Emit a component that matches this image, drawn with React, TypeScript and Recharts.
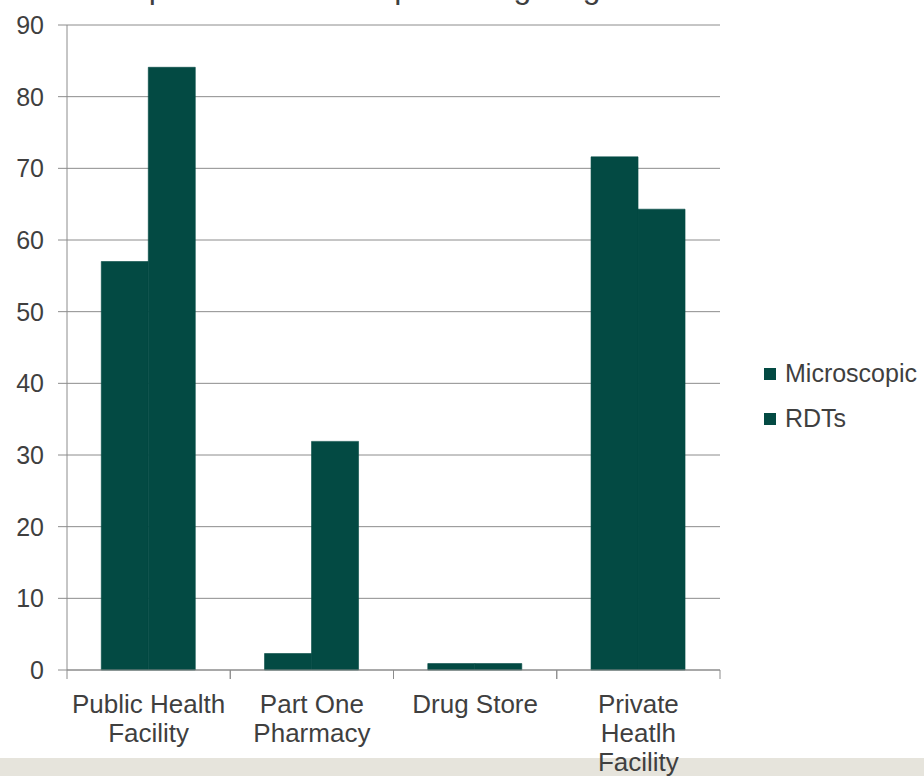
import { BarChart, Bar, XAxis, YAxis, CartesianGrid, Legend } from 'recharts';

const categories = ['Public Health Facility', 'Part One Pharmacy', 'Drug Store', 'Private Heatlh Facility'];
const xTickLabels = [['Public Health', 'Facility'], ['Part One', 'Pharmacy'], ['Drug Store'], ['Private', 'Heatlh', 'Facility']];
const microscopic = [57.0, 2.3, 0.9, 71.6];
const rdts = [84.1, 31.9, 0.9, 64.3];
const yTicks = [0, 10, 20, 30, 40, 50, 60, 70, 80, 90];
const title = 'Proportion of outlets practicing diagnostics';

const data = categories.map((name, i) => ({
  name,
  Microscopic: microscopic[i],
  RDTs: rdts[i],
}));

const FONT = '"Liberation Sans", Arial, sans-serif';
const BAR = '#034A43';
const GRID = '#8c8c8c';
const TEXT = '#3f3f3f';

// category labels wrap onto several lines, tick marks sit on the category borders
const CategoryTick = (props: any) => {
  const { x, y, payload, index } = props;
  const half = payload.offset || 0;
  const lines = xTickLabels[index] || [payload.value];
  return (
    <g>
      <line x1={x - half} x2={x - half} y1={y} y2={y + 9} stroke={GRID} />
      <line x1={x + half} x2={x + half} y1={y} y2={y + 9} stroke={GRID} />
      {lines.map((line, i) => (
        <text key={i} x={x} y={y + 43 + i * 29} textAnchor="middle" fill={TEXT} fontSize={26} fontFamily={FONT}>
          {line}
        </text>
      ))}
    </g>
  );
};

const LegendContent = ({ payload }: any) => (
  <div style={{ fontFamily: FONT, fontSize: 25, color: TEXT }}>
    {(payload || []).map((entry: any) => (
      <div key={entry.value} style={{ display: 'flex', alignItems: 'center', height: 45 }}>
        <span style={{ display: 'inline-block', width: 12, height: 12, background: entry.color, marginRight: 9 }} />
        <span>{entry.value}</span>
      </div>
    ))}
  </div>
);

export default function App() {
  return (
    <div style={{ position: 'absolute', left: 0, top: 0, width: 924, height: 776, overflow: 'hidden', background: '#fff' }}>
      <div style={{ position: 'absolute', left: 0, top: 758, width: 924, height: 18, background: '#e6e4dc' }} />
      {/* title is cropped off the top in the source image */}
      <div
        style={{
          position: 'absolute',
          left: 99,
          top: -29,
          fontFamily: FONT,
          fontSize: 32,
          lineHeight: '32px',
          color: TEXT,
          whiteSpace: 'nowrap',
        }}
      >
        {title}
      </div>
      <div style={{ position: 'absolute', left: 0, top: 0 }}>
        <BarChart
          width={924}
          height={776}
          data={data}
          margin={{ top: 25, right: 204, bottom: 0, left: 0 }}
          barCategoryGap="21%"
          barGap={0}
        >
          <CartesianGrid horizontal vertical={false} stroke={GRID} />
          <XAxis
            dataKey="name"
            height={106}
            interval={0}
            tickLine={false}
            tickSize={0}
            tickMargin={0}
            axisLine={{ stroke: GRID }}
            tick={<CategoryTick />}
          />
          <YAxis
            width={67}
            domain={[0, 90]}
            ticks={yTicks}
            interval={0}
            tickSize={9}
            tickMargin={14}
            axisLine={{ stroke: GRID }}
            tickLine={{ stroke: GRID }}
            tick={{ fill: TEXT, fontSize: 25, fontFamily: FONT }}
          />
          <Legend
            layout="vertical"
            align="center"
            verticalAlign="middle"
            wrapperStyle={{ left: 764, top: 351, width: 160 }}
            content={<LegendContent />}
          />
          <Bar dataKey="Microscopic" fill={BAR} stroke={BAR} strokeWidth={0.6} isAnimationActive={false} />
          <Bar dataKey="RDTs" fill={BAR} stroke={BAR} strokeWidth={0.6} isAnimationActive={false} />
        </BarChart>
      </div>
    </div>
  );
}
